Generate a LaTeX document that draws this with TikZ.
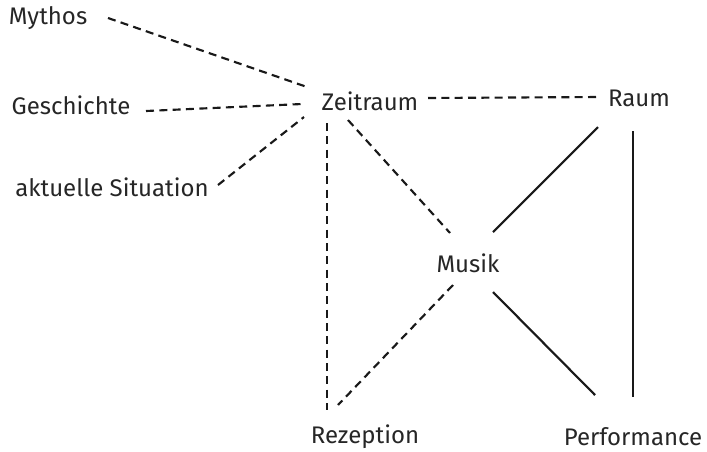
\documentclass[tikz,border=0pt]{standalone}
\usepackage{fontspec}
\setmainfont{Fira Sans}
\begin{document}
\begin{tikzpicture}[x=0.75pt,y=-0.75pt,
  lbl/.style={inner sep=0pt,font=\fontsize{18}{21}\selectfont,text=black!85},
  dline/.style={line width=1.6pt,dash pattern=on 6pt off 4pt,black!90},
  sline/.style={line width=1.6pt,black!90}]
\useasboundingbox (0,0) rectangle (707,451);
% nodes
\node[lbl] (mythos) at (48,18) {Mythos};
\node[lbl] (gesch) at (71,105) {Geschichte};
\node[lbl] (akt) at (112,187) {aktuelle Situation};
\node[lbl] (zeit) at (370,101) {Zeitraum};
\node[lbl] (raum) at (639,98) {Raum};
\node[lbl] (musik) at (468,263) {Musik};
\node[lbl] (rez) at (365,437) {Rezeption};
\node[lbl] (perf) at (633,437) {Performance};
% connector ends
\coordinate (mythos-e) at (108,18);
\coordinate (zeit-nw) at (307,87);
\coordinate (gesch-e) at (146,111);
\coordinate (zeit-w) at (302,104);
\coordinate (akt-e) at (218,185);
\coordinate (zeit-sw) at (304,117);
\coordinate (zeit-e) at (428,98);
\coordinate (raum-w) at (600,97);
\coordinate (zeit-se) at (348,120);
\coordinate (musik-nw) at (450,233);
\coordinate (zeit-s) at (327,123);
\coordinate (rez-n) at (327,410);
\coordinate (musik-sw) at (453,285);
\coordinate (rez-ne) at (338,405);
\coordinate (raum-sw) at (598,127);
\coordinate (musik-ne) at (493,232);
\coordinate (raum-s) at (633,131);
\coordinate (perf-n) at (633,397);
\coordinate (musik-se) at (493,292);
\coordinate (perf-nw) at (595,395);
% connectors
\draw[dline] (mythos-e) -- (zeit-nw);
\draw[dline] (gesch-e) -- (zeit-w);
\draw[dline] (akt-e) -- (zeit-sw);
\draw[dline] (zeit-e) -- (raum-w);
\draw[dline] (zeit-se) -- (musik-nw);
\draw[dline] (zeit-s) -- (rez-n);
\draw[dline] (musik-sw) -- (rez-ne);
\draw[sline] (raum-sw) -- (musik-ne);
\draw[sline] (raum-s) -- (perf-n);
\draw[sline] (musik-se) -- (perf-nw);
\end{tikzpicture}
\end{document}
